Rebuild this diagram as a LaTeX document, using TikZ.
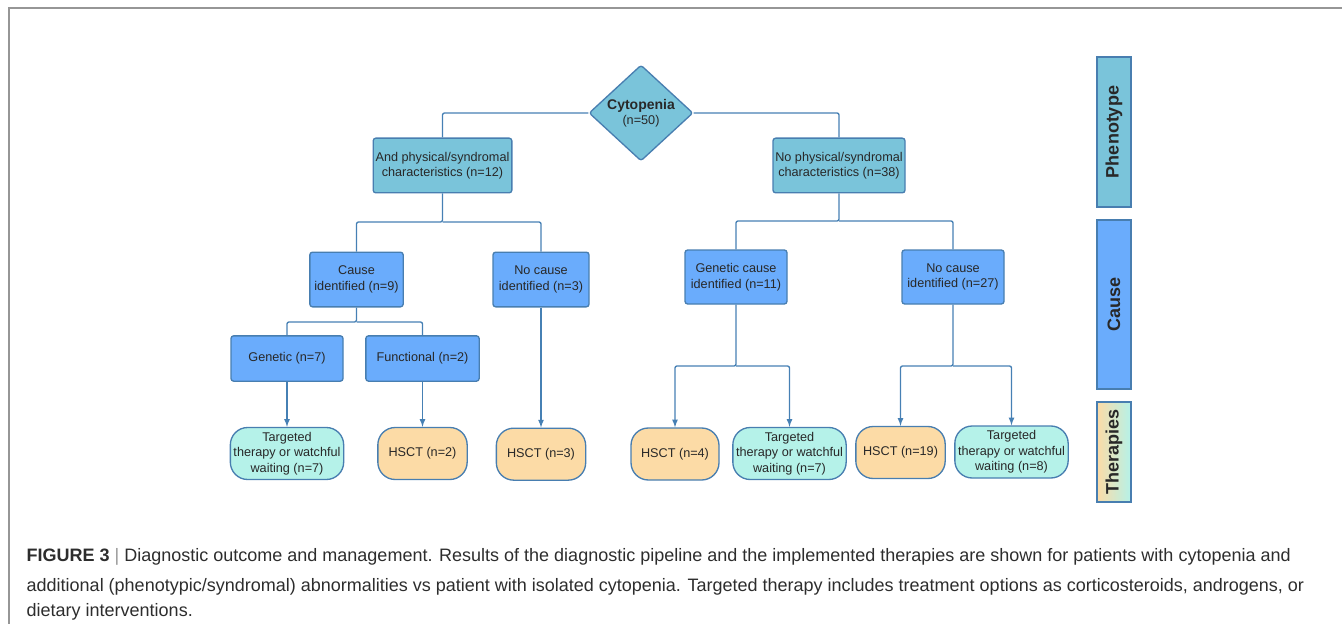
\documentclass[tikz,border=0pt]{standalone}
\usepackage{fontspec}
\setmainfont{Liberation Sans}
\usetikzlibrary{positioning,arrows,shapes.geometric}

\definecolor{phenofill}{RGB}{122,196,218}
\definecolor{causefill}{RGB}{106,172,252}
\definecolor{hsctfill}{RGB}{252,219,166}
\definecolor{tgtfill}{RGB}{181,242,233}
\definecolor{edgeblue}{RGB}{72,126,176}
\definecolor{linkblue}{RGB}{70,128,180}
\definecolor{textgray}{RGB}{40,40,40}
\definecolor{framegray}{RGB}{150,150,150}
\definecolor{captext}{RGB}{45,45,45}

\tikzset{
    box/.style={draw=edgeblue, line width=1pt, rounded corners=2pt, align=center, inner sep=1pt, text=textgray},
    phenobox/.style={box, fill=phenofill, minimum height=41pt},
    causebox/.style={box, fill=causefill},
    therapy/.style={draw=edgeblue, line width=1pt, rounded corners=13pt, align=center, inner sep=1pt, minimum height=39pt, text=textgray},
    hsct/.style={therapy, fill=hsctfill, minimum width=67pt},
    targeted/.style={therapy, fill=tgtfill, minimum width=85pt},
    sidebar/.style={draw=edgeblue, line width=1pt, rotate=90, minimum height=25.5pt, inner sep=0pt, text=textgray, font=\fontsize{13.5}{16}\selectfont\bfseries},
    link/.style={draw=linkblue, line width=1pt, rounded corners=1.5pt},
    caption/.style={anchor=west, text=captext, font=\fontsize{13.5}{16}\selectfont}
}

\begin{document}
\begin{tikzpicture}[x=0.75pt, y=-0.75pt, font=\fontsize{9.5}{11.6}\selectfont]

    \useasboundingbox (0,0) rectangle (1342,624);
    \draw[framegray, line width=1pt] (9,624) -- (9,8) -- (1342,8);

    \node (cyto) [diamond, draw=edgeblue, line width=1pt, fill=phenofill, rounded corners=2pt, minimum width=78pt, minimum height=72pt, inner sep=0pt, align=center, text=textgray] at (641,113) {{\fontsize{10.5}{13}\selectfont\bfseries Cytopenia}\\(n=50)};

    \node (phen1) [phenobox, minimum width=104pt] at (442.5,165.5) {And physical/syndromal\\characteristics (n=12)};
    \node (phen2) [phenobox, minimum width=99pt] at (839,165.5) {No physical/syndromal\\characteristics (n=38)};

    \node (cause1) [causebox, minimum width=70pt, minimum height=41pt] at (356.5,279.5) {Cause\\identified (n=9)};
    \node (nocause1) [causebox, minimum width=72pt, minimum height=41pt] at (541,279.5) {No cause\\identified (n=3)};
    \node (gen1) [causebox, minimum width=84pt, minimum height=34pt] at (287,358.5) {Genetic (n=7)};
    \node (func1) [causebox, minimum width=85pt, minimum height=34pt] at (422.5,358.5) {Functional (n=2)};
    \node (gen2) [causebox, minimum width=76.5pt, minimum height=40.5pt] at (736,277) {Genetic cause\\identified (n=11)};
    \node (nocause2) [causebox, minimum width=76.5pt, minimum height=40.5pt] at (953,277) {No cause\\identified (n=27)};

    \node (tgt1) [targeted, below=33.75pt of gen1] {Targeted\\therapy or watchful\\waiting (n=7)};
    \node (hsct1) [hsct, below=33.75pt of func1] {HSCT (n=2)};
    \node (hsct2) [hsct, below=90pt of nocause1] {HSCT (n=3)};
    \node (hsct3) [hsct, minimum width=66pt] at (675,454) {HSCT (n=4)};
    \node (tgt2) [targeted] at (789.5,453.5) {Targeted\\therapy or watchful\\waiting (n=7)};
    \node (hsct4) [hsct] at (900.5,452.5) {HSCT (n=19)};
    \node (tgt3) [targeted] at (1011.5,452) {Targeted\\therapy or watchful\\waiting (n=8)};

    \coordinate (split1) at (442.5,222);
    \coordinate (split2) at (356.5,322);
    \coordinate (split3) at (839,221);
    \coordinate (split4) at (736,366);
    \coordinate (split5) at (953,366);

    \draw[link] (cyto.west) -| (phen1.north);
    \draw[link] (cyto.east) -| (phen2.north);
    \draw[link] (phen1.south) -- (split1) -| (cause1.north);
    \draw[link] (split1) -| (nocause1.north);
    \draw[link] (cause1.south) -- (split2) -| (gen1.north);
    \draw[link] (split2) -| (func1.north);
    \draw[link] (phen2.south) -- (split3) -| (gen2.north);
    \draw[link] (split3) -| (nocause2.north);

    \draw[link, -latex] (gen1) -- (tgt1);
    \draw[link, -latex] (func1) -- (hsct1);
    \draw[link, -latex] (nocause1) -- (hsct2);
    \draw[link, -latex] (gen2.south) -- (split4) -| (hsct3.north);
    \draw[link, -latex] (split4) -| (tgt2.north);
    \draw[link, -latex] (nocause2.south) -- (split5) -| (hsct4.north);
    \draw[link, -latex] (split5) -| (tgt3.north);

    \node (sidepheno) [sidebar, fill=phenofill, minimum width=112.5pt] at (1114,132) {Phenotype};
    \node (sidecause) [sidebar, fill=causefill, minimum width=126.75pt] at (1114,304.5) {Cause};
    \shade[left color=hsctfill, right color=tgtfill] (1097,402) rectangle (1131,502);
    \node (sidether) [sidebar, minimum width=75pt] at (1114,452) {Therapies};

    \node (cap1) [caption] at (22,557) {\textbf{FIGURE 3} {\color{framegray}|} Diagnostic outcome and management. Results of the diagnostic pipeline and the implemented therapies are shown for patients with cytopenia and};
    \node (cap2) [caption, below=22.5pt of cap1.west, anchor=west] {additional (phenotypic/syndromal) abnormalities vs patient with isolated cytopenia. Targeted therapy includes treatment options as corticosteroids, androgens, or};
    \node (cap3) [caption, below=18.5pt of cap2.west, anchor=west] {dietary interventions.};

\end{tikzpicture}
\end{document}
